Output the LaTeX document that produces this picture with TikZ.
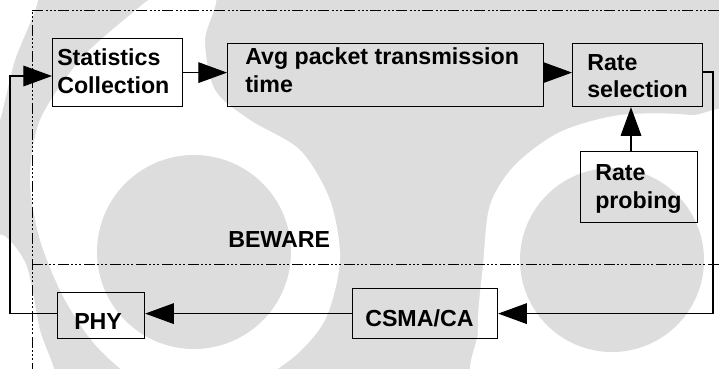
\documentclass[tikz,border=0pt]{standalone}
\usepackage{fontspec}
\setmainfont{Liberation Sans}
\usetikzlibrary{arrows.meta}
\definecolor{wm}{RGB}{221,221,221}
\begin{document}
\begin{tikzpicture}[x=0.75pt,y=-0.75pt,
  box/.style={draw,line width=0.9pt,inner sep=0pt,anchor=north west},
  lbl/.style={anchor=base west,inner sep=0pt,font=\fontsize{17.4}{21}\selectfont\bfseries},
  conn/.style={line width=0.8pt},
  arr/.style={conn,-{Triangle[length=21.5pt,width=15.5pt]}},
  ddd/.style={line width=0.6pt,dash pattern=on 8pt off 2pt on 1pt off 2pt on 1pt off 2pt on 1pt off 2.5pt}]
\useasboundingbox (0,0) rectangle (719,369);
% watermark
\begin{scope}
\clip (0,0) rectangle (719,369);
\fill[wm] (0,0) rectangle (719,369);
\fill[white] plot[smooth cycle] coordinates {(160,-5) (215,-5) (205,40) (215,90) (250,120) (300,150) (330,200) (340,260) (325,320) (290,360) (240,385) (150,385) (100,350) (65,300) (40,240) (30,180) (40,120) (80,60) (130,15)};
\fill[white] plot[smooth cycle] coordinates {(483,265) (490,205) (515,165) (560,132) (620,115) (690,115) (740,130) (745,390) (490,390) (478,330)};
\fill[white] plot[smooth cycle] coordinates {(-5,-5) (38,-5) (15,60) (-5,130)};
\fill[white] plot[smooth cycle] coordinates {(-5,240) (25,262) (40,330) (55,385) (-5,385)};
\fill[wm] (194,252) circle [radius=97];
\fill[wm] (612,260) circle [radius=92];
\end{scope}
% frame lines
\coordinate (dtl) at (32,10);
\draw[ddd] (719,10) -- (dtl) -- (32,369);
\draw[ddd] (32,264) -- (719,264);
% boxes
\node[box,minimum width=97.5pt,minimum height=51pt] (stats) at (52,38) {};
\node[box,minimum width=237pt,minimum height=47.25pt] (avg) at (227,43) {};
\node[box,minimum width=97.5pt,minimum height=47.25pt] (rsel) at (572,43) {};
\node[box,minimum width=87.75pt,minimum height=53.25pt] (probe) at (580,151) {};
\node[box,minimum width=108.75pt,minimum height=37.5pt] (csma) at (352,288) {};
\node[box,minimum width=65.25pt,minimum height=34.5pt] (phy) at (57,292) {};
% labels
\node[lbl] (t1) at (57,65) {Statistics};
\node[lbl] (t2) at (57,93) {Collection};
\node[lbl] (t3) at (245,64) {Avg packet transmission};
\node[lbl] (t4) at (245,92) {time};
\node[lbl] (t5) at (587,70) {Rate};
\node[lbl] (t6) at (587,97) {selection};
\node[lbl] (t7) at (595,180) {Rate};
\node[lbl] (t8) at (595,208) {probing};
\node[lbl] (t9) at (365,326) {CSMA/CA};
\node[lbl] (t10) at (74,329) {PHY};
\node[lbl] (t11) at (228,247) {BEWARE};
% connectors
\draw[arr] (stats.east) -- (stats.east -| avg.west);
\draw[arr] (avg.east |- stats.east) -- (stats.east -| rsel.west);
\coordinate (pj) at (631,151);
\draw[arr] (pj) -- (pj |- rsel.south);
\coordinate (rc) at (713,72);
\draw[arr] (rsel.east |- rc) -- (rc) -- (rc |- csma.east) -- (csma.east);
\draw[arr] (csma.west) -- (csma.west -| phy.east);
\coordinate (lc) at (10,76);
\draw[arr] (phy.west |- csma.west) -- (lc |- csma.west) -- (lc) -- (lc -| stats.west);
\end{tikzpicture}
\end{document}
